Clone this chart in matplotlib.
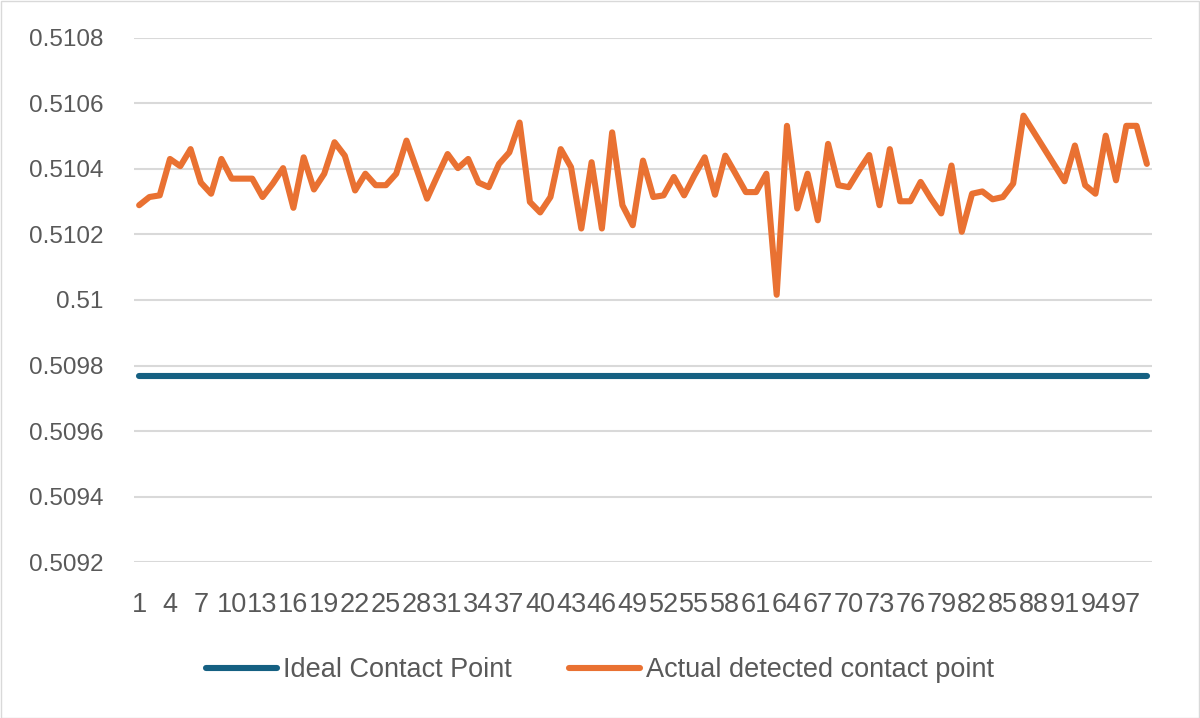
import matplotlib
matplotlib.use("Agg")
import matplotlib.pyplot as plt
from matplotlib.patches import Rectangle

plt.rcParams['font.family'] = ['Liberation Sans', 'DejaVu Sans']

categories = list(range(1, 100))
actual = [
    0.510289, 0.510314, 0.510319, 0.510430, 0.510408, 0.510460, 0.510358, 0.510324, 0.510430, 0.510370,
    0.510370, 0.510370, 0.510314, 0.510355, 0.510402, 0.510281, 0.510435, 0.510337, 0.510385, 0.510481,
    0.510440, 0.510334, 0.510385, 0.510350, 0.510350, 0.510385, 0.510486, 0.510398, 0.510309, 0.510378,
    0.510445, 0.510402, 0.510430, 0.510358, 0.510344, 0.510415, 0.510450, 0.510541, 0.510299, 0.510267,
    0.510314, 0.510460, 0.510405, 0.510218, 0.510420, 0.510218, 0.510511, 0.510289, 0.510228, 0.510425,
    0.510314, 0.510319, 0.510375, 0.510319, 0.510380, 0.510435, 0.510321, 0.510440, 0.510385, 0.510329,
    0.510329, 0.510385, 0.510016, 0.510531, 0.510279, 0.510385, 0.510243, 0.510476, 0.510350, 0.510344,
    0.510395, 0.510442, 0.510289, 0.510460, 0.510301, 0.510301, 0.510360, 0.510309, 0.510264, 0.510410,
    0.510208, 0.510324, 0.510331, 0.510307, 0.510314, 0.510355, 0.510562, 0.510512, 0.510462, 0.510412,
    0.510362, 0.510471, 0.510350, 0.510324, 0.510501, 0.510365, 0.510531, 0.510531, 0.510415,
]
ideal_value = 0.509767
ideal = [ideal_value] * len(categories)

y_ticks = [0.5092, 0.5094, 0.5096, 0.5098, 0.5100, 0.5102, 0.5104, 0.5106, 0.5108]
y_tick_labels = ["0.5092", "0.5094", "0.5096", "0.5098", "0.51", "0.5102", "0.5104", "0.5106", "0.5108"]
x_tick_values = categories[::3]

series_names = ["Ideal Contact Point", "Actual detected contact point"]
colors = ["#156082", "#E97132"]

W, H = 1200, 718
fig = plt.figure(figsize=(W / 100, H / 100), dpi=100)
ax = fig.add_axes([134 / W, 1 - 562.4 / H, (1152 - 134) / W, (562.4 - 37.6) / H])

ax.plot(categories, ideal, color=colors[0], lw=4.4, solid_capstyle='round', solid_joinstyle='round', label=series_names[0], zorder=3)
ax.plot(categories, actual, color=colors[1], lw=4.4, solid_capstyle='round', solid_joinstyle='round', label=series_names[1], zorder=4)

ax.set_xlim(0.5, len(categories) + 0.5)
ax.set_ylim(y_ticks[0], y_ticks[-1])
ax.set_yticks(y_ticks)
ax.set_yticklabels(y_tick_labels)
ax.set_xticks(x_tick_values)
ax.set_xticklabels([str(v) for v in x_tick_values])
ax.tick_params(axis='both', length=0, labelcolor='#595959')
ax.tick_params(axis='y', pad=22, labelsize=17.5)
ax.tick_params(axis='x', pad=21, labelsize=19.5)
for s in ax.spines.values():
    s.set_visible(False)
ax.grid(axis='y', color='#D9D9D9', lw=1.5)
ax.set_axisbelow(True)

leg = fig.legend(loc='center', bbox_to_anchor=(0.5, 1 - 670 / H), ncol=2, frameon=False,
                 fontsize=19.5, handlelength=2.6, handletextpad=0.22, columnspacing=2.15)
for t in leg.get_texts():
    t.set_color('#595959')

fig.patches.append(Rectangle((0.5 / W, 0.5 / H), 1 - 1.5 / W, 1 - 1.5 / H, transform=fig.transFigure,
                             fill=False, edgecolor='#D9D9D9', lw=1))

fig.savefig('out.png', dpi=100)
